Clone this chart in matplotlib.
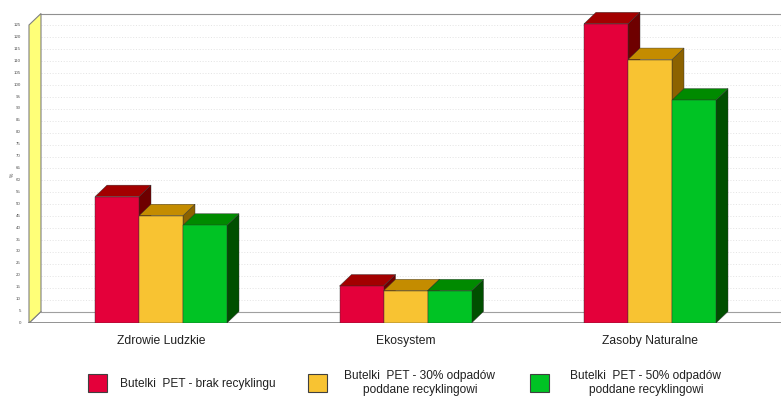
import numpy as np
import matplotlib
matplotlib.use('Agg')
import matplotlib.pyplot as plt
from matplotlib.patches import Polygon, Rectangle

plt.rcParams['font.family'] = ['Liberation Sans', 'DejaVu Sans']

# dane
kategorie = ['Zdrowie Ludzkie', 'Ekosystem', 'Zasoby Naturalne']
brak_recyklingu = [53, 15.5, 125.5]
recykling_30 = [45, 13.5, 110.5]
recykling_50 = [41, 13.5, 93.5]
serie = ['Butelki  PET - brak recyklingu',
         'Butelki  PET - 30% odpadów\npoddane recyklingowi',
         'Butelki  PET - 50% odpadów\npoddane recyklingowi']
yticks = list(range(0, 130, 5))

# kolory: przod, gora, bok
kolory = [('#E4003A', '#A30000', '#6E0000'),
          ('#F8C332', '#C48C00', '#8C6200'),
          ('#00C324', '#008A00', '#004F00')]

W, H = 781, 398
fig = plt.figure(figsize=(W / 100, H / 100), dpi=100)
ax = fig.add_axes([0, 75 / H, 1, 323 / H])
px = 244.5  # pikseli na kategorie
py = 298 / 125.0  # pikseli na jednostke
ax.set_xlim(-161 / px, (W - 161) / px)
ax.set_ylim(0, 323 / py)
ax.axis('off')

dx = 12 / px  # glebokosc 3D
dy = 11.5 / py
x0 = -132 / px  # lewa sciana
ymax = 125

# sciana boczna (zolta)
ax.add_patch(Polygon([(x0, 0), (x0, ymax), (x0 + dx, ymax + dy), (x0 + dx, dy)],
                     closed=True, fc='#FFFF78', ec='#808080', lw=0.8, zorder=1))
# siatka na tylnej scianie
for t in yticks[1:]:
    ax.plot([x0 + dx, 3], [t + dy, t + dy], color='#DADADA', lw=0.5,
            ls=(0, (1.5, 2.5)), zorder=0.5)
ax.plot([x0 + dx, 3], [ymax + dy, ymax + dy], color='#909090', lw=0.8, zorder=0.6)
# podloga
ax.plot([x0 + dx, 3], [dy, dy], color='#A0A0A0', lw=0.8, zorder=0.6)
ax.plot([x0, 3], [0, 0], color='#808080', lw=1.2, zorder=0.6)
ax.plot([x0, x0 + dx], [0, dy], color='#808080', lw=0.8, zorder=0.6)

# opisy osi Y
for t in yticks:
    ax.text(x0 - 8 / px, t, str(t), ha='right', va='center', fontsize=3.2,
            color='#505050')
ax.text(-149 / px, 62, '%', ha='center', va='center', fontsize=3.5,
        rotation=90, color='#505050')

# slupki 3D
szer = 44 / px
wartosci = [brak_recyklingu, recykling_30, recykling_50]
for k in range(len(kategorie)):
    for s in range(3):
        v = wartosci[s][k]
        xl = k - 1.5 * szer + s * szer
        xr = xl + szer
        front, top, side = kolory[s]
        ax.add_patch(Polygon([(xr, 0), (xr + dx, dy), (xr + dx, v + dy), (xr, v)],
                             closed=True, fc=side, ec='#303030', lw=0.3, zorder=2 + s))
        ax.add_patch(Polygon([(xl, v), (xl + dx, v + dy), (xr + dx, v + dy), (xr, v)],
                             closed=True, fc=top, ec='#303030', lw=0.3, zorder=2 + s))
        ax.add_patch(Rectangle((xl, 0), szer, v, fc=front, ec='#303030', lw=0.3,
                               zorder=2 + s))
    ax.text(k, -18 / py, kategorie[k], ha='center', va='center', fontsize=8.7,
            color='#202020')

# legenda
lx = [88, 308, 530]
tx = [120, 420, 646]
for s in range(3):
    fig.patches.append(Rectangle((lx[s] / W, 1 - 392 / H), 19 / W, 18 / H,
                                 transform=fig.transFigure, fc=kolory[s][0],
                                 ec='#404040', lw=0.8))
    if s == 0:
        fig.text(tx[s] / W, 1 - 384 / H, serie[s], ha='left', va='center',
                 fontsize=8.6, color='#202020')
    else:
        fig.text(tx[s] / W, 1 - 383 / H, serie[s], ha='center', va='center',
                 fontsize=8.6, color='#202020', linespacing=1.15)

plt.savefig('out.png', dpi=100)
